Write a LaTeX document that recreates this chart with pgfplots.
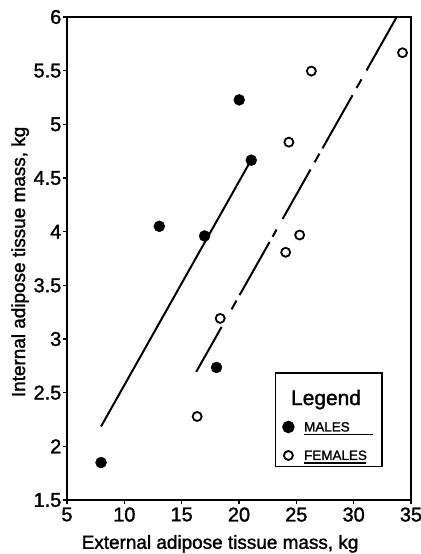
\documentclass[border=0pt]{standalone}
\usepackage{pgfplots}
\pgfplotsset{compat=1.18}
\usepackage{fontspec}
\setmainfont{Liberation Sans}[FakeBold=1.5]
\begin{document}
\begin{tikzpicture}
\useasboundingbox (-67bp,-54bp) rectangle (354bp,500bp);
\begin{axis}[
  at={(0,0)}, anchor=south west,
  scale only axis, width=344bp, height=483bp,
  xmin=5, xmax=35, ymin=1.5, ymax=6,
  xtick={5,10,15,20,25,30,35},
  ytick={1.5,2,2.5,3,3.5,4,4.5,5,5.5,6},
  tick align=outside, xtick pos=bottom, ytick pos=left,
  major tick length=4bp,
  every tick/.style={black, line width=1.5bp},
  axis line style={line width=2.5bp},
  /pgf/number format/assume math mode=true,
  tick label style={font=\fontsize{20}{20}\selectfont},
  yticklabel style={inner xsep=1.5bp},
  label style={font=\fontsize{19}{19}\selectfont},
  xlabel={External adipose tissue mass, kg},
  ylabel={Internal adipose tissue mass, kg},
  xlabel style={at={(axis description cs:0.445,-0.101)}, anchor=base},
  ylabel style={at={(axis description cs:-0.122,0.493)}, anchor=base},
  clip=false,
  unbounded coords=jump,
  legend style={at={(axis cs:23.13,2.69)}, anchor=north west, draw=black,
    line width=1.5bp, inner sep=3bp, column sep=0bp, row sep=0bp,
    cells={anchor=base west, inner sep=0bp},
    font=\fontsize{13.5}{13.5}\selectfont},
  legend image code/.code={\path (0bp,0bp) (22bp,0bp); \draw[#1] plot coordinates {(9bp,4.5bp)};},
]
\addlegendimage{empty legend}
\addlegendentry{\hspace*{-13bp}\fontsize{21}{21}\selectfont\rule[-3bp]{0pt}{30bp}Legend}

\addplot[only marks, mark=*, mark size=5.5bp, black] coordinates {
 (7.97,1.849) (13.05,4.05) (17.0,3.96) (20.02,5.228) (21.07,4.666) (18.04,2.735)
};
\addlegendentry{\rule[-5bp]{0pt}{26bp}\makebox[73bp][l]{\rlap{\rule[-4bp]{69bp}{1.6bp}}MALES}}

\addplot[only marks, mark=o, mark size=4.5bp, black, mark options={line width=1.8bp}] coordinates {
 (16.35,2.278) (18.36,3.192) (24.07,3.808) (25.29,3.969) (24.35,4.834) (26.31,5.496) (34.26,5.667)
};
\addlegendentry{\rule[-9bp]{0pt}{32bp}\rlap{\rule[-4bp]{62bp}{1.6bp}}FEMALES}

% regression line, males
\addplot[black, line width=2bp, forget plot] coordinates {(7.97,2.185) (21.07,4.67)};
% regression line, females (broken)
\addplot[black, line width=2bp, forget plot] coordinates {
 (16.27,2.694) (18.48,3.112) (18.9,nan)
 (19.35,3.276) (19.78,3.358) (19.9,nan)
 (20.05,3.409) (22.67,3.904) (22.8,nan)
 (22.93,3.953) (23.28,4.020) (23.5,nan)
 (23.80,4.118) (26.24,4.579) (26.4,nan)
 (26.59,4.646) (27.02,4.727) (27.1,nan)
 (27.28,4.776) (29.90,5.271) (30.0,nan)
 (30.25,5.338) (30.68,5.419) (30.9,nan)
 (31.12,5.502) (33.75,6.0)
};
\end{axis}
\end{tikzpicture}
\end{document}
